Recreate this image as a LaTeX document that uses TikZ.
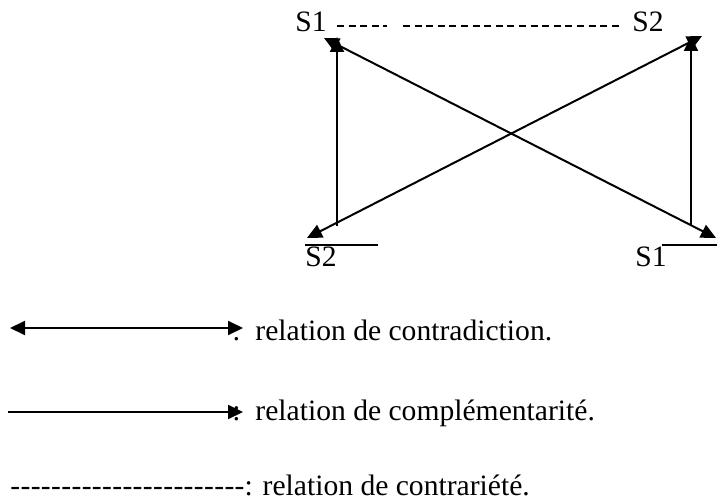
\documentclass[tikz,border=0pt]{standalone}
\usepackage{fontspec}
\setmainfont{Liberation Serif}
\usepackage{tikz}
\usetikzlibrary{arrows.meta}

\newcommand\hy{-\kern0.17pt}

\begin{document}
\begin{tikzpicture}[x=0.5pt, y=-0.5pt,
    >={Triangle[length=7.5pt, width=7pt]},
    every node/.style={font=\fontsize{14.8pt}{17pt}\selectfont, inner sep=0pt},
    rel/.style={line width=1pt},
    bar/.style={line width=0.9pt},
    contr/.style={line width=0.8pt, dash pattern=on 3.5pt off 2.3pt}]

\useasboundingbox (0,0) rectangle (726,502);

% Square: labels
\node[anchor=base west] (s1top) at (295,32) {S1};
\node[anchor=base west] (s2top) at (632,32) {S2};
\node[anchor=base west] (s2bot) at (305,266) {S2};
\node[anchor=base west] (s1bot) at (635,266) {S1};

% overlines
\coordinate (s2barend) at (378,245);
\coordinate (s1barend) at (717,245);
\draw[bar] (305,245) -- (s2barend);
\draw[bar] (662,245) -- (s1barend);

% Square: corners
\coordinate (tlv) at (337,37);
\coordinate (trv) at (691,36);
\coordinate (blv) at (337,226);
\coordinate (brv) at (691,225);
\coordinate (tld) at (324,38);
\coordinate (trd) at (702,36);
\coordinate (bld) at (307,238);
\coordinate (brd) at (716,238);

% Complementarity: vertical arrows
\draw[rel, ->] (blv) -- (tlv);
\draw[rel, ->] (brv) -- (trv);

% Contradiction: diagonals
\draw[rel, <->] (tld) -- (brd);
\draw[rel, <->] (bld) -- (trd);

% Contrariety: dashed line between S1 and S2 (with a gap)
\coordinate (gapa) at (387,26);
\coordinate (gapb) at (403,26);
\draw[contr] (s1top.east |- gapa) ++(10,0) -- (gapa);
\draw[contr] (gapb) -- (620,26);

% Legend
\coordinate (l1a) at (10,328);
\coordinate (l1b) at (243,328);
\draw[rel, <->] (l1a) -- (l1b);
\node[anchor=base west] (leg1) at (232,340) {:\enspace relation de contradiction.};

\coordinate (l2a) at (8,412);
\coordinate (l2b) at (243,412);
\draw[rel, ->] (l2a) -- (l2b);
\node[anchor=base west] (leg2) at (232,420) {:\enspace relation de compl\'ementarit\'e.};

\node[anchor=base west] (leg3) at (10,495)
    {\hy\hy\hy\hy\hy\hy\hy\hy\hy\hy\hy\hy\hy\hy\hy\hy\hy\hy\hy\hy\hy\hy-: relation de contrari\'et\'e.};

\end{tikzpicture}
\end{document}
